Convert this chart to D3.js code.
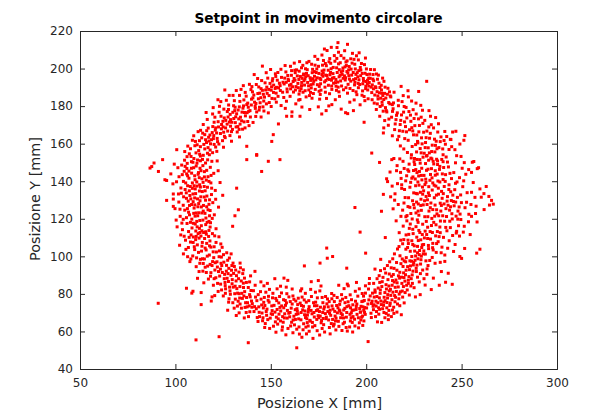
<!DOCTYPE html>
<html>
<head>
<meta charset="utf-8">
<script src="https://cdn.jsdelivr.net/npm/d3@7"></script>
<style>
  body { margin: 0; background: #fff; }
  text { font-family: "DejaVu Sans", sans-serif; fill: #262626; }
</style>
</head>
<body>
<div id="chart"></div>
<script>
// axis ticks
var xTicks = [50, 100, 150, 200, 250, 300];
var yTicks = [40, 60, 80, 100, 120, 140, 160, 180, 200, 220];

// setpoints, grouped by part of the ring ([x, y] in mm)
var topArc = [[150.2,188.5],[151.5,191.2],[152.8,186.9],[153.4,193.8],[154.1,189.7],[155.6,195.3],[156.2,187.4],[157.0,191.8],[157.9,198.2],[158.5,189.1],[159.3,193.6],[160.1,185.2],[160.8,196.4],[161.4,190.3],[162.2,194.7],[162.9,188.6],[163.5,199.3],[164.2,192.1],[164.8,186.4],[165.5,195.8],[166.1,190.9],[166.8,201.7],[167.4,193.5],[168.0,188.2],[168.7,197.4],[169.3,192.6],[170.0,203.8],[170.6,195.1],[171.2,189.7],[171.9,199.6],[172.5,193.2],[173.1,206.5],[173.8,197.9],[174.4,191.4],[175.0,201.2],[175.7,194.8],[176.3,188.5],[176.9,198.7],[177.6,204.3],[178.2,192.9],[178.8,196.5],[179.5,209.6],[180.1,199.1],[180.7,194.2],[181.4,202.8],[182.0,188.9],[182.6,197.3],[183.3,206.9],[183.9,192.5],[184.5,200.4],[185.2,213.8],[185.8,195.6],[186.4,203.1],[187.1,190.7],[187.7,198.8],[188.3,205.5],[189.0,193.9],[189.6,201.6],[190.2,212.9],[190.9,196.2],[191.5,189.4],[192.1,199.7],[192.8,208.1],[193.4,194.1],[194.0,202.3],[194.7,187.6],[195.3,197.8],[195.9,204.6],[196.6,191.5],[197.2,199.2],[197.8,185.8],[198.5,194.7],[199.1,202.1],[199.7,189.3],[200.4,196.8],[201.0,183.9],[201.6,192.6],[202.3,199.5],[202.9,187.2],[203.5,194.4],[204.2,181.6],[204.8,190.3],[205.4,197.1],[206.1,185.4],[206.7,192.2],[207.3,179.8],[208.0,188.6],[208.6,194.9],[209.2,183.5],[209.9,190.1],[210.5,177.6],[211.1,186.3],[211.8,181.9],
  [151.0,194.6],[153.0,190.0],[155.0,188.3],[157.3,194.9],[159.8,191.1],[161.9,187.5],[163.9,196.1],[165.9,189.3],[167.9,194.4],[169.8,190.8],[171.7,197.8],[173.6,194.0],[175.4,190.5],[177.3,195.9],[179.1,201.5],[181.0,196.7],[182.9,192.2],[184.8,197.9],[186.6,193.4],[188.6,196.1],[190.5,191.6],[192.4,196.5],[194.3,199.8],[196.2,194.0],[198.1,188.1],[199.9,193.1],[201.8,197.0],[203.8,189.2],[205.7,187.7],[207.6,184.2],[209.6,186.8],[172.3,186.7],[178.6,187.4],[186.0,185.2],[193.7,183.3],[164.6,183.2],[158.2,182.6],[180.4,180.1],[196.8,180.7],[170.4,178.2],[189.2,176.5],[161.1,176.9],[175.6,183.7],[185.5,208.7],[181.7,211.3],[194.9,206.8],[176.8,207.2],
  [156.4,192.7],[158.9,196.3],[161.7,193.1],[163.2,190.4],[164.9,198.6],[166.4,194.8],[167.7,191.2],[169.1,199.4],[170.8,187.3],[172.9,195.9],[174.1,199.8],[175.9,186.2],[177.1,201.8],[178.4,190.1],[179.8,194.6],[181.6,199.9],[183.1,195.2],[184.2,190.6],[185.5,202.5],[187.4,196.9],[188.1,188.7],[189.9,198.4],[191.2,194.4],[192.6,202.9],[193.9,191.3],[195.6,195.6],[196.9,200.6],[198.2,191.9],[199.4,197.5],[200.8,188.6],[202.1,194.8],[203.2,191.3],[204.5,185.9],[205.9,194.3],[207.2,189.9],[208.3,182.1],[152.6,195.8],[154.5,192.2],[160.4,189.2],[166.9,187.4],[172.2,191.8],[177.9,199.2],[183.6,203.9],[188.9,200.9],[194.6,196.9],[200.1,199.8],[174.6,204.9],[180.9,205.3],[186.8,206.9],[191.9,205.2],[197.5,202.7],[168.2,199.9],[162.6,199.1],[157.5,201.6],[171.4,202.3],[165.1,203.7],[178.1,210.4],[184.7,211.2],[188.7,209.5],[196.3,208.4],[199.6,205.6],[176.2,194.1],[181.9,190.7],[187.9,194.8],[193.1,188.3],[198.9,185.1],[203.1,183.4],[170.9,193.7],[164.7,194.2],[158.6,187.6],[155.3,199.6],[160.3,201.2],[167.2,197.1],[173.3,188.9],[179.4,196.3],[185.1,192.8],[190.8,199.3],[195.9,189.8],[201.4,190.7],[206.4,196.5],[209.3,193.2],[211.4,189.5],[212.6,185.4],[213.7,180.8],[152.1,183.9],[156.8,184.6],[163.1,181.2],[168.5,184.9],[174.9,179.6],[183.8,183.4],[191.4,182.1],[199.3,182.9],[186.9,178.4],[176.7,175.8],[166.3,179.5],[157.6,178.8],[197.9,197.4],[189.4,189.8],[182.3,194.9],[175.2,197.4],[169.6,196.2],[162.8,197.8],[159.1,194.3],[153.7,197.9],[150.8,193.4],[204.3,199.4],[207.9,191.1],[184.4,188.4],[179.2,184.1],[171.6,184.2],[194.1,192.7],[200.7,193.8],[190.0,204.1],[185.9,199.4],[180.5,203.6],[168.9,203.1],[162.3,202.9],
  [160.6,191.6],[162.7,193.8],[164.4,189.8],[166.2,192.6],[168.3,195.7],[169.9,188.6],[171.1,191.4],[172.8,198.4],[174.3,195.1],[176.1,191.9],[177.5,197.6],[178.9,193.7],[180.2,191.1],[181.3,197.9],[182.7,200.6],[184.1,194.2],[185.3,190.1],[186.3,196.4],[187.8,200.3],[189.2,195.1],[190.4,197.6],[191.9,193.3],[193.2,197.9],[194.4,194.6],[195.8,192.1],[197.1,196.2],[198.6,193.4],[199.8,190.6],[201.3,194.9],[202.6,190.1],[203.9,193.5],[205.1,189.8],[206.9,187.1],[167.1,196.6],[171.9,194.6],[176.8,196.8],[181.8,193.8],[186.9,198.2],[191.1,201.1],[196.1,198.9],[200.6,191.9],[165.2,188.1],[170.3,185.6],[175.3,187.9],[180.8,186.6],[185.7,187.6],[190.2,186.9],[195.1,186.1],[160.9,198.9],[166.1,200.4],[173.2,201.8],[178.6,202.7],[184.6,205.4],[189.4,203.5],[193.6,204.9],[158.1,192.7],[154.9,190.9],[152.3,189.4],[203.6,196.8],[208.1,186.9]];

var upperRight = [[205.3,178.2],[207.1,174.6],[208.4,180.5],[209.7,172.3],[210.8,176.9],[211.6,169.8],[212.4,181.2],[213.3,174.1],[214.1,178.6],[214.9,167.5],[215.6,172.8],[216.3,176.4],[217.1,163.9],[217.8,170.2],[218.5,175.3],[219.2,166.6],[219.9,179.8],[220.6,169.1],[221.3,173.7],[222.0,161.8],[222.7,167.4],[223.4,171.9],[224.1,158.5],[224.8,164.7],[225.5,169.6],[226.2,175.8],[226.9,161.2],[227.6,166.3],[228.3,157.4],[229.0,163.1],[229.7,170.8],[230.4,154.9],[231.1,160.6],[231.8,166.7],[232.5,157.8],[233.2,162.9],[233.9,152.3],[234.6,159.2],[235.3,168.4],[236.0,155.6],[236.7,161.3],[237.4,150.8],[238.1,157.9],[239.2,163.6],[240.3,154.1],[241.5,159.7],[242.6,150.2],[212.9,184.9],[216.8,183.1],[220.9,179.3],[224.6,178.1],[227.4,173.2],[230.7,172.4],[234.1,170.1],[237.5,166.2],[240.8,161.7],[244.1,162.3],[246.5,156.8],[209.2,168.4],[213.7,164.2],[217.9,158.8],[221.6,155.3],[225.3,152.1],[219.4,185.6],[223.8,182.7],[228.6,180.4],[232.9,177.6],[236.4,173.9],[231.7,193.2],[227.5,187.8],[218.3,190.5],[214.6,187.4],[245.3,166.2],[249.1,159.8],
  [206.2,183.8],[208.9,177.3],[210.3,184.3],[211.9,173.1],[213.8,177.2],[215.2,170.5],[216.9,180.2],[218.1,172.4],[219.6,176.8],[221.1,166.3],[222.4,177.1],[223.9,168.5],[225.1,173.4],[226.5,164.6],[227.9,169.7],[229.3,159.9],[230.1,166.1],[231.4,163.2],[232.8,168.9],[234.3,155.8],[235.8,162.4],[237.1,157.3],[238.8,161.1],[240.1,157.2],[241.9,152.9],[243.4,156.9],[214.3,181.7],[217.4,166.9],[220.2,162.7],[223.2,175.2],[225.9,159.5],[228.8,174.1],[230.9,157.9],[233.6,165.5],[236.3,159.1],[239.6,151.6],[242.2,163.8],[218.8,182.4],[222.1,184.9],[226.1,181.6],[229.5,177.8],[233.7,174.6],[210.1,179.2],[215.9,175.1],[220.1,171.6],[224.4,166.8],[227.1,160.4],[231.9,153.7],[235.1,150.6],[238.6,147.9],[212.2,187.6],[208.7,185.6],[205.8,181.2],[216.4,162.1],[219.7,157.2],[223.7,154.1],[228.1,151.5],[221.9,188.2],[237.9,170.6],[241.2,166.5],[244.8,158.4],[247.4,153.6]];

var rightArc = [[214.5,152.1],[216.2,148.3],[218.0,144.7],[219.3,150.6],[220.7,140.2],[221.8,146.1],[222.9,136.8],[223.6,152.4],[224.5,142.3],[225.4,148.9],[226.2,133.5],[227.1,139.6],[227.9,145.2],[228.7,130.4],[229.5,136.9],[230.3,143.1],[231.1,149.4],[231.9,127.6],[232.6,133.8],[233.4,140.5],[234.2,146.7],[234.9,124.9],[235.7,131.2],[236.5,137.4],[237.2,143.8],[238.0,121.6],[238.8,128.3],[239.5,134.6],[240.3,140.9],[241.1,118.7],[241.8,125.4],[242.6,131.8],[243.4,138.1],[244.1,115.3],[244.9,122.7],[245.7,129.2],[246.4,135.5],[247.2,112.4],[248.0,119.8],[248.7,126.3],[249.5,132.7],[250.3,146.9],[251.1,140.2],[252.6,128.8],[253.8,122.4],[255.2,134.1],[256.4,150.5],[257.6,126.7],[258.9,147.2],[260.3,131.5],[261.8,124.9],[262.9,137.2],[264.6,127.3],[265.7,129.8],[258.1,118.3],[254.5,111.6],[251.6,104.2],[211.2,139.8],[212.8,131.7],[214.1,125.3],[215.7,118.9],[217.3,112.6],[218.6,136.2],[219.8,128.4],[221.4,121.7],[222.6,114.9],[223.9,108.3],[225.2,125.8],[226.8,119.4],[228.1,112.7],[229.4,106.1],[230.7,121.1],[232.2,115.5],[233.7,109.2],[235.1,103.4],[236.6,116.8],[238.2,110.5],[239.7,104.9],[241.2,100.7],[243.5,108.3],[245.8,102.6],[229.8,152.8],[226.4,155.6],[233.1,155.1],[236.9,151.7],[240.6,147.3],[243.9,144.2],[246.8,149.8],[249.7,153.2],[252.2,143.7],[227.3,127.9],[231.4,131.9],[229.2,140.7],[226.0,146.2],[232.8,137.1],[236.1,127.3],[234.4,120.2],[239.1,124.1],[242.3,113.6],[244.7,141.4],[247.6,139.6],[220.4,131.3],[224.3,129.6],[228.9,124.5],[231.5,118.6],[223.1,117.2],[227.8,100.9],[233.3,97.8],[221.7,104.7],[218.9,98.6],
  [215.9,145.6],[217.6,151.9],[219.9,146.8],[221.2,142.9],[222.5,149.1],[223.3,139.4],[224.8,145.7],[225.9,137.6],[226.7,151.6],[227.5,142.8],[228.4,134.1],[229.1,146.9],[230.8,138.2],[231.6,145.8],[232.1,130.1],[233.7,143.6],[234.6,135.3],[235.4,149.2],[236.8,132.6],[237.6,140.1],[238.4,146.3],[239.8,130.9],[240.9,137.2],[241.6,143.5],[242.9,127.2],[244.3,134.4],[245.1,119.9],[246.1,126.9],[247.8,131.4],[248.4,116.3],[249.2,122.5],[250.6,137.1],[251.8,125.9],[252.9,133.9],[253.6,118.4],[254.9,127.6],[256.1,139.3],[257.3,122.8],[220.1,135.6],[221.9,126.5],[223.4,122.8],[224.9,133.8],[226.4,128.9],[227.6,121.9],[229.9,127.4],[230.9,113.4],[232.9,124.1],[234.2,116.4],[235.9,121.4],[237.3,113.2],[238.9,118.8],[240.5,110.1],[242.1,121.2],[243.8,118.7],[245.3,111.1],[246.6,106.3],[248.9,110.8],[250.9,112.9],[213.6,137.4],[215.1,133.3],[216.8,127.6],[218.2,121.3],[219.4,116.1],[220.9,111.4],[222.1,106.8],[224.6,112.1],[226.1,115.8],[228.6,108.8],[230.2,102.9],[232.6,105.8],[234.7,112.7],[236.9,106.8],[239.3,101.9],[242.7,104.3],[229.6,133.1],[233.9,128.4],[236.9,124.8],[231.2,141.1],[228.3,149.6],[232.7,151.2],[237.8,136.3],[239.9,143.9],[243.1,147.6],[245.9,144.6],[248.9,141.9],[251.4,149.9],[253.7,146.2],[247.1,121.4],[243.7,124.6],[240.8,127.9],[225.7,141.2],[222.2,131.2],[218.3,141.5],[216.4,138.7],[214.9,129.9],[219.1,124.6],[224.1,119.9],[227.2,124.1],[236.2,143.2],[234.9,139.1],[238.6,115.6],[226.9,105.3],[221.3,118.9],[218.1,108.6],[244.6,129.7],[249.9,128.6],[246.8,138.9],
  [222.3,145.3],[223.9,141.6],[225.1,150.4],[226.6,144.6],[227.7,137.9],[228.9,143.1],[230.1,134.9],[231.3,139.4],[232.4,146.4],[233.1,132.4],[234.5,141.8],[235.6,137.9],[236.2,145.6],[237.9,133.1],[238.6,139.6],[239.4,127.1],[240.4,133.4],[241.4,139.9],[242.4,129.4],[243.3,135.6],[244.2,126.4],[245.4,132.6],[246.9,128.9],[248.1,124.1],[249.6,119.6],[224.9,127.6],[226.8,133.3],[228.6,127.1],[230.6,129.6],[232.3,121.1],[233.6,125.9],[235.4,118.1],[237.1,122.6],[238.8,112.6],[240.1,121.6],[241.7,115.4],[229.6,117.1],[231.7,111.6],[226.1,123.1],[222.9,126.1],[220.8,121.1],[224.4,114.4],[227.2,118.1],[234.9,106.9],[236.4,110.9],[228.8,155.1],[231.6,153.4],[234.4,151.9],[237.4,148.9],[240.3,150.4]];

var lowerRight = [[200.2,72.5],[201.4,76.8],[202.5,69.7],[203.3,80.4],[204.1,74.2],[204.9,67.9],[205.6,78.6],[206.3,83.1],[207.0,71.8],[207.7,76.2],[208.4,86.5],[209.1,73.9],[209.8,80.7],[210.5,69.6],[211.2,77.8],[211.9,84.2],[212.6,75.1],[213.3,89.4],[214.0,80.9],[214.7,86.3],[215.4,78.2],[216.1,92.6],[216.8,83.7],[217.5,88.4],[218.2,96.1],[218.9,81.5],[219.6,91.2],[220.3,86.8],[221.0,99.3],[221.7,94.5],[222.4,89.2],[223.1,102.7],[223.8,97.4],[224.5,92.1],[225.2,105.6],[225.9,100.2],[226.6,95.3],[227.3,108.4],[228.0,103.1],[228.7,98.2],[229.4,111.6],[230.1,106.3],[231.0,101.2],[232.2,109.5],[233.5,113.2],[234.8,104.6],[236.1,96.3],[237.7,107.8],[239.4,91.9],[241.2,97.3],[206.8,89.7],[209.6,93.4],[212.3,97.1],[214.8,101.3],[217.2,105.2],[219.7,108.9],[222.3,111.7],[208.1,64.8],[211.6,66.3],[213.8,71.4],[216.4,74.6],[219.1,78.3],[221.5,82.1],[224.2,85.6],[226.9,88.9],[229.6,92.7],[232.4,95.1],[235.2,88.4],[238.3,84.6],[241.6,86.2],[245.1,85.1],[203.9,85.6],[201.7,88.2],[199.6,80.4],[198.3,76.1],[197.1,70.3],[198.8,65.6],[196.4,82.7],[210.2,91.1],[213.1,93.9],[215.9,96.7],[207.6,98.4],[204.6,93.2],[218.4,68.9],[225.8,78.4],[230.9,84.7],[228.3,79.6],[212.9,79.2],[207.3,80.3],[215.2,83.5],[210.9,75.4],[205.2,73.5],[217.7,100.3],[220.8,103.8],[224.9,96.7],[227.6,113.8],[231.8,90.4],[234.1,82.3],
  [200.9,74.6],[202.1,78.9],[203.8,71.6],[205.1,76.1],[206.6,69.2],[207.9,74.3],[209.4,78.2],[210.8,72.6],[212.1,81.6],[213.5,76.9],[214.4,72.9],[215.8,81.3],[217.1,77.4],[218.7,85.6],[219.8,88.7],[221.2,84.6],[222.7,92.9],[223.6,88.1],[224.7,95.4],[226.3,91.9],[227.1,98.7],[228.5,95.9],[229.9,101.3],[231.3,97.6],[232.7,104.1],[201.2,82.6],[203.1,76.1],[204.6,82.1],[206.1,75.3],[208.2,83.9],[209.3,70.1],[211.4,87.6],[212.7,82.4],[214.2,90.3],[215.6,87.4],[217.6,91.5],[219.3,94.6],[220.7,97.1],[222.9,97.6],[225.4,102.8],[226.5,110.2],[229.1,104.7],[230.5,109.8],[205.7,88.1],[207.5,92.4],[211.1,95.1],[213.9,98.7],[216.4,103.9],[219.1,106.7],[221.9,108.6],[224.4,106.3],[199.1,70.2],[202.7,67.4],[205.9,65.1],[209.8,67.3],[213.2,67.9],[216.1,70.3],[219.9,75.2],[222.6,79.4],[225.1,83.3],[227.8,86.4],[230.3,88.1],[210.4,84.9],[207.1,86.1],[204.2,78.3],[212.1,90.6],[214.6,93.6],[217.9,81.1],[220.6,90.2],[223.4,84.2],[226.2,93.6],[228.4,90.8],[231.9,93.3],[234.6,99.4],[236.7,102.1],[238.8,96.8],[201.6,85.5],[198.6,78.8],[197.6,67.6],[211.9,71.2],[215.1,75.8],[208.8,88.8],
  [203.6,73.4],[205.4,70.6],[206.9,77.9],[208.6,72.1],[209.9,76.4],[211.3,79.6],[212.4,73.8],[213.6,84.6],[214.9,79.1],[216.2,85.9],[217.3,79.9],[218.5,88.9],[219.5,83.9],[220.9,92.6],[222.1,87.3],[223.2,94.9],[224.1,90.1],[225.6,97.9],[204.7,80.9],[207.4,82.1],[210.6,82.6],[213.8,87.1],[216.9,89.6],[219.9,97.6],[223.9,99.9],[202.8,74.9],[206.5,72.6],[209.2,75.6],[211.6,68.7],[214.5,69.6],[217.6,73.7],[220.4,80.7],[222.1,85.6],[228.9,100.1],[226.9,101.9]];

var bottomArc = [[140.3,74.8],[141.2,70.6],[142.0,78.3],[142.9,67.4],[143.7,73.1],[144.6,81.2],[145.4,69.8],[146.3,75.5],[147.1,64.2],[148.0,71.9],[148.8,78.7],[149.7,67.1],[150.5,73.6],[151.4,62.8],[152.2,70.3],[153.1,76.4],[153.9,66.7],[154.8,72.8],[155.6,80.5],[156.5,64.9],[157.3,69.4],[158.2,75.2],[159.0,61.6],[159.9,67.8],[160.7,72.4],[161.6,78.9],[162.4,63.5],[163.3,69.1],[164.1,74.3],[165.0,58.6],[165.8,66.2],[166.7,71.5],[167.5,76.8],[168.4,62.3],[169.2,68.7],[170.1,73.2],[170.9,82.4],[171.8,64.8],[172.6,70.1],[173.5,75.6],[174.3,60.4],[175.2,67.3],[176.0,72.9],[176.9,78.1],[177.7,63.6],[178.6,69.5],[179.4,74.7],[180.3,66.1],[181.1,71.3],[182.0,77.4],[182.8,62.9],[183.7,68.2],[184.5,73.8],[185.4,65.4],[186.2,70.9],[187.1,79.6],[187.9,64.1],[188.8,72.3],[189.6,67.6],[190.5,75.8],[191.3,62.4],[192.2,69.9],[193.0,74.2],[193.9,66.5],[194.7,71.7],[195.6,78.8],[196.4,64.6],[197.3,73.4],[198.1,68.2],[199.0,76.5],[141.8,84.6],[144.9,77.2],[147.8,68.6],[150.9,77.9],[153.6,63.9],[156.8,72.6],[159.5,78.4],[162.9,66.4],[165.4,75.1],[168.9,66.8],[171.3,78.6],[174.8,68.4],[177.3,75.3],[180.7,62.1],[183.3,75.9],[186.6,67.3],[189.3,78.1],[192.7,64.8],[195.2,69.1],[198.7,71.3],[143.3,65.3],[146.8,62.1],[152.7,59.6],[157.9,58.2],[163.6,61.2],[166.3,56.9],[172.1,56.3],[178.2,59.7],[184.1,60.8],[190.1,60.2],[196.0,61.9],[149.3,82.4],[155.1,84.1],[161.2,82.6],[168.1,80.3],[175.7,81.6],[181.9,80.2],[188.4,82.8],[194.3,81.4],[173.9,71.1],[179.9,70.6],[185.9,71.4],[169.6,70.3],[163.9,70.8],[158.7,71.2],[154.3,69.2],[191.8,72.6],[197.7,75.9],[176.6,65.8],[170.6,65.5],[182.4,66.4],[167.2,64.1],
  [141.5,73.2],[142.7,76.4],[143.9,70.2],[145.2,74.1],[146.6,78.1],[147.6,70.6],[149.1,75.6],[150.2,69.4],[151.7,73.9],[152.9,67.6],[154.2,75.2],[155.2,70.9],[156.2,67.9],[157.7,73.9],[158.6,67.1],[160.1,70.1],[161.2,74.6],[162.1,68.1],[163.7,72.1],[164.6,66.7],[165.9,70.1],[167.1,73.4],[168.2,67.4],[169.8,71.7],[170.5,65.9],[171.6,69.4],[172.9,73.7],[174.1,66.4],[175.5,70.6],[176.4,64.6],[177.8,71.9],[178.9,66.8],[180.1,73.1],[181.4,68.6],[182.6,71.9],[183.9,65.6],[184.9,69.9],[186.1,74.4],[187.5,68.9],[188.6,64.9],[189.8,70.1],[190.9,73.7],[192.1,67.3],[193.5,71.4],[194.4,76.1],[195.9,67.3],[196.9,70.3],[198.3,73.1],[199.5,69.1],[144.1,67.9],[148.4,66.3],[152.4,65.1],[156.1,62.4],[160.9,64.9],[164.8,62.4],[169.6,62.9],[173.1,63.1],[176.9,61.6],[181.7,64.2],[185.7,62.7],[189.5,62.1],[194.1,62.9],[143.4,79.6],[147.4,80.9],[151.1,80.3],[154.6,78.6],[158.4,80.1],[162.1,77.1],[166.4,78.3],[169.9,76.4],[174.4,77.9],[178.7,78.6],[183.1,79.2],[187.6,77.2],[191.6,79.5],[195.1,74.6],[160.2,75.9],[156.7,76.9],[164.4,77.7],[167.9,70.9],[172.8,67.7],[178.1,73.1],[183.5,70.7],[188.9,75.3],[192.6,71.2],[150.7,71.1],[146.1,72.5],[139.2,78.4],[140.9,81.7],[153.3,82.7],[146.4,84.3],[170.1,60.1],[175.6,58.1],[161.6,59.3],[149.4,61.6],[145.7,65.7],[187.3,60.5],[192.9,59.7],[181.1,58.7],[168.7,58.7],[155.9,60.7],[198.2,63.2],[179.7,77.3],[184.8,78.1],[173.4,80.9],[165.6,81.6],[158.1,83.6],[190.6,84.3],[197.9,80.2],[199.6,84.3],[185.6,84.6],[176.3,84.2],[148.2,85.6],[152.1,88.1],[144.8,86.4],[158.9,87.2],[171.2,86.5],[194.9,86.1],
  [150.9,69.1],[153.3,71.7],[155.7,73.6],[157.1,67.2],[159.4,69.7],[161.7,66.1],[162.8,71.6],[164.3,69.4],[166.1,73.8],[167.7,68.9],[169.1,64.7],[171.1,71.2],[172.4,75.3],[174.6,71.6],[175.9,68.2],[177.2,70.1],[179.1,67.6],[180.8,69.7],[182.1,73.6],[184.2,67.1],[185.2,72.6],[186.8,69.6],[188.2,71.4],[189.9,73.2],[191.5,69.1],[193.1,67.9],[194.8,73.3],[196.6,72.2],[146.9,73.8],[148.6,76.6],[152.6,77.6],[157.6,76.5],[163.1,76.2],[168.6,75.6],[174.2,73.7],[180.6,75.9],[186.4,76.2],[192.3,76.9],[155.1,65.6],[160.4,62.9],[166.9,60.9],[171.9,62.4],[177.4,66.9],[183.2,63.9],[188.1,67.2],[145.9,67.3],[142.4,72.1],[191.7,65.6],[197.2,66.1],[199.2,72.7]];

var lowerLeft = [[115.2,98.6],[116.1,103.4],[116.9,94.8],[117.8,100.7],[118.6,91.3],[119.5,97.2],[120.3,105.1],[121.2,88.6],[122.0,94.3],[122.9,99.8],[123.7,85.2],[124.6,91.4],[125.4,96.9],[126.3,82.7],[127.1,88.3],[128.0,93.6],[128.8,79.8],[129.7,85.4],[130.5,90.9],[131.4,77.2],[132.2,82.8],[133.1,88.1],[133.9,74.6],[134.8,80.3],[135.6,85.7],[136.5,72.8],[137.3,78.1],[138.2,83.4],[139.0,70.5],[139.9,76.2],[112.8,96.3],[114.4,92.1],[117.3,87.9],[119.9,84.6],[122.4,81.3],[125.1,78.9],[127.9,75.6],[130.8,72.4],[133.4,69.9],[136.1,67.2],[118.1,108.2],[121.5,102.3],[124.1,99.6],[126.8,95.2],[129.4,92.6],[132.0,89.7],[134.5,86.9],[137.2,86.1],[139.6,81.8],[120.7,92.7],[123.2,89.5],[126.0,86.1],[128.4,83.6],[131.1,80.1],[133.7,77.8],[136.8,75.3],[138.7,73.6],[114.9,85.9],[111.6,88.3],[109.2,81.4],[113.5,80.7],[118.8,76.2],[120.6,79.1],[127.4,71.3],[131.9,68.5],[124.5,104.8],[128.3,99.1],[130.2,96.4],[135.3,90.8],[119.2,95.1],[116.4,106.9],
  [116.7,100.1],[118.2,95.7],[119.8,102.4],[120.9,96.6],[122.6,91.9],[123.9,96.3],[125.6,88.1],[126.7,92.1],[127.8,86.6],[129.1,89.9],[130.3,83.6],[131.8,86.9],[132.6,80.4],[133.8,83.9],[135.1,77.6],[136.3,81.2],[137.8,75.3],[138.9,79.6],[140.1,72.9],[117.9,105.6],[120.1,99.3],[121.8,97.1],[123.6,93.2],[125.8,90.4],[127.6,90.8],[129.8,87.6],[131.3,84.1],[133.4,80.1],[135.9,78.9],[137.6,73.1],[114.6,96.2],[116.2,91.4],[118.4,89.4],[120.3,88.1],[122.1,85.6],[124.2,82.1],[126.2,80.3],[128.1,77.4],[130.1,75.3],[132.5,73.5],[134.6,72.4],[137.1,70.1],[138.3,67.9],[121.3,107.4],[123.1,102.9],[125.2,100.9],[127.4,97.9],[129.6,95.1],[131.6,92.7],[133.3,91.6],[136.2,88.4],[138.9,86.4],[126.9,101.9],[122.8,110.4],[117.4,110.6],[119.4,112.1],[115.9,113.1],[113.9,105.4],[115.6,94.2],[112.4,91.9],[124.3,95.1],[128.6,81.6],[132.9,76.1],[135.7,83.4],[130.9,94.6],[126.1,84.4],[134.1,93.9],[139.4,89.6],[129.2,101.3],[123.8,106.6]];

var leftArc = [[104.2,101.3],[106.8,104.7],[109.1,100.2],[111.5,106.1],[113.7,102.8],[105.3,108.6],[108.2,111.4],[110.6,108.9],[112.9,112.7],[115.3,109.5],[117.6,113.8],[103.7,114.2],[106.1,117.5],[108.7,115.1],[111.2,118.6],[113.6,116.3],[116.0,120.4],[118.4,117.9],[102.5,121.3],[104.9,124.6],[107.4,122.1],[109.8,125.7],[112.3,123.2],[114.7,127.1],[117.1,124.8],[119.6,128.6],[101.8,128.9],[104.3,131.7],[106.7,129.4],[109.2,133.2],[111.6,130.6],[114.1,134.5],[116.5,132.1],[119.0,136.3],[102.9,136.4],[105.4,139.1],[107.8,137.2],[110.3,140.8],[112.7,138.1],[115.2,142.3],[117.6,139.9],[120.1,144.2],[103.6,143.5],[106.0,146.8],[108.5,144.3],[110.9,148.1],[113.4,145.6],[115.8,149.7],[118.3,147.4],[104.8,151.2],[107.3,154.6],[109.7,152.1],[112.2,156.3],[114.6,153.8],[117.1,157.9],[119.5,155.2],[106.5,158.7],[108.9,161.8],[111.4,159.4],[113.8,163.1],[116.3,160.6],[110.1,103.6],[112.4,109.7],[108.6,119.8],[111.8,126.4],[110.4,135.9],[109.3,129.1],[107.1,141.6],[111.9,143.7],[106.2,149.5],[113.1,150.9],[110.7,113.5],[114.4,119.3],[113.3,131.7],[105.7,133.8],[116.8,136.8],[121.9,150.8],[123.4,139.3],[122.6,126.2],[121.3,114.7],[124.8,132.5],[99.8,125.4],[100.6,139.7],[98.9,133.2],[101.3,147.2],[97.6,143.9],[95.4,129.8],[114.2,98.7],[107.6,97.2],[110.9,94.5],[118.9,132.9],[116.4,145.8],[104.1,119.7],[102.2,105.9],
  [105.5,103.7],[107.9,107.6],[109.9,105.1],[112.1,102.1],[114.1,107.4],[116.2,111.8],[104.6,110.7],[106.9,113.2],[109.4,110.3],[111.4,115.7],[113.9,113.6],[115.9,116.9],[117.9,121.6],[103.4,117.7],[105.8,120.6],[107.9,118.1],[110.3,121.4],[112.8,119.1],[115.5,122.9],[117.6,127.7],[120.4,122.1],[104.1,127.2],[106.3,125.4],[108.5,127.6],[110.9,123.1],[113.6,126.3],[115.8,129.9],[118.2,124.4],[103.1,133.6],[105.1,135.6],[107.6,132.4],[110.1,131.1],[112.6,134.8],[115.1,137.2],[117.9,130.1],[104.2,139.9],[106.4,142.9],[108.9,139.1],[111.3,137.4],[113.9,141.3],[116.2,140.6],[118.7,143.1],[105.1,147.9],[107.1,145.4],[109.6,147.2],[112.1,144.6],[114.4,148.3],[116.9,151.4],[119.1,150.6],[106.1,153.1],[108.4,150.4],[110.8,155.1],[113.1,153.4],[115.4,157.2],[117.8,154.1],[120.3,159.6],[107.9,157.3],[110.2,158.9],[112.6,161.6],[114.9,159.6],[117.4,163.4],[119.9,162.7],[109.6,164.2],[111.9,166.4],[114.3,165.6],[101.6,133.2],[102.4,125.1],[103.3,148.6],[101.9,142.4],[100.4,119.3],[104.9,155.8],[108.1,98.6],[111.1,99.2],[106.4,99.8],[113.1,98.4],[118.6,139.1],[120.9,135.1],[119.3,120.2],[121.1,130.4],[122.4,145.6],[121.7,155.9],[107.3,134.9],[109.8,137.6],[112.2,128.1],[114.6,124.1],[116.6,118.1],[110.4,117.2],[112.5,141.9],[108.2,153.2],[111.6,151.3],[106.9,123.5],[104.6,145.3],[113.4,110.8],[115.6,104.4],[118.6,104.9],[120.6,110.9],[102.8,111.4],[98.7,138.6],[100.9,115.7],[99.4,149.1],
  [110.9,110.6],[112.6,114.9],[114.8,112.7],[109.4,117.6],[111.7,121.6],[113.9,123.1],[116.4,126.4],[110.2,127.4],[112.9,129.6],[115.1,131.6],[108.1,130.6],[110.6,133.4],[113.1,136.9],[115.6,134.9],[108.9,136.2],[111.2,139.6],[114.5,139.4],[117.1,142.4],[110.1,142.9],[112.9,146.9],[115.2,145.1],[108.4,146.9],[111.3,149.6],[114.2,151.6],[116.8,154.9],[109.2,150.1],[112.7,154.4],[115.8,162.1],[113.1,158.4],[110.5,161.2],[107.4,127.1],[105.8,130.9],[106.4,137.6],[109.6,122.9],[111.9,112.1],[109.3,107.4],[107.2,110.1],[117.6,118.6],[118.2,115.6],[105.9,143.9]];

var upperLeft = [[115.4,164.8],[117.2,168.3],[118.9,162.1],[120.3,171.4],[121.6,165.7],[122.8,159.8],[123.9,174.6],[125.0,168.9],[126.1,163.2],[127.2,177.1],[128.3,171.5],[129.4,166.4],[130.5,180.2],[131.6,174.3],[132.7,169.1],[133.8,182.5],[134.9,176.8],[136.0,171.6],[137.1,185.3],[138.2,179.4],[139.3,174.2],[140.4,187.6],[141.5,182.1],[142.6,176.9],[143.7,190.2],[144.8,184.5],[145.9,179.6],[147.0,192.4],[148.1,186.8],[149.2,181.9],[119.5,175.8],[123.1,179.9],[126.7,183.1],[130.2,185.7],[134.4,188.9],[138.8,191.6],[143.1,194.7],[147.6,197.8],[121.1,158.2],[124.7,161.6],[128.6,164.3],[132.4,166.2],[136.5,168.4],[140.7,171.3],[144.9,174.2],[148.7,176.4],[118.2,156.6],[126.4,172.4],[131.1,177.6],[135.7,180.1],[139.9,183.7],[144.2,186.9],[133.2,173.2],[137.6,176.5],[141.9,178.8],[128.9,169.3],[125.3,166.1],[121.9,162.8],[146.3,182.7],[150.6,184.1],[152.4,197.2],[149.9,199.5],[145.6,201.3],[141.3,196.8],[125.9,188.6],[122.3,183.4],[116.7,172.9],[113.2,167.1],
  [116.4,166.9],[118.1,164.6],[119.6,169.1],[121.1,168.4],[122.4,171.7],[123.6,165.4],[124.9,171.9],[126.3,168.4],[127.6,174.2],[128.9,172.8],[130.1,176.7],[131.4,171.2],[132.9,177.9],[134.1,174.1],[135.4,178.9],[136.7,174.8],[137.9,181.6],[139.1,177.6],[140.6,184.4],[141.8,179.9],[143.2,186.7],[144.4,181.8],[145.6,188.4],[146.7,184.8],[147.9,190.1],[149.1,185.6],[120.7,174.1],[122.9,176.7],[125.4,178.4],[127.9,180.6],[130.9,182.9],[133.6,185.7],[136.6,187.3],[139.6,188.8],[142.4,191.5],[145.2,193.6],[148.4,194.9],[118.4,159.9],[122.1,161.1],[125.7,163.9],[129.9,167.6],[133.9,170.4],[137.9,171.8],[142.1,174.5],[146.4,177.4],[150.2,179.8],[152.9,182.1],[117.6,161.4],[120.1,164.3],[124.2,170.2],[127.4,166.7],[131.8,168.9],[135.2,167.7],[138.6,169.6],[143.9,177.9],[147.3,188.6],[149.6,192.1],[151.4,187.3],[153.8,185.2],[155.4,180.3],[128.2,185.7],[123.8,182.4],[119.8,179.2],[131.9,188.3],[135.6,190.9],[114.6,170.2],[116.1,176.6],[125.2,158.1],[129.4,161.3],[133.6,163.6],
  [130.6,173.4],[132.1,175.9],[133.5,179.6],[134.7,172.2],[136.2,176.6],[137.4,180.8],[138.4,177.2],[139.8,180.6],[141.1,185.9],[142.2,181.4],[143.5,183.9],[144.9,189.3],[146.1,186.3],[147.7,181.2],[148.9,188.9],[127.1,170.4],[128.7,175.6],[125.6,173.7],[124.1,167.9],[122.6,168.9],[120.9,167.2],[119.3,165.9],[135.9,183.3],[140.1,190.4],[144.1,179.4],[131.3,179.4],[127.8,178.2],[133.4,167.6],[129.6,171.4],[150.4,190.3]];

// isolated points inside the hole and outside the ring
var strays = [[86.7,147.0],[88.8,149.7],[91.1,145.2],[93.3,151.5],[95.4,140.4],[100.7,156.8],[87.6,147.8],[94.5,140.8],[98.9,130.5],[98.9,126.6],
  [154.0,170.5],[161.0,174.6],[150.5,161.2],[151.3,164.8],[148.7,150.6],[154.8,151.5],[158.3,174.6],[145.2,145.2],[142.6,153.8],[137.4,151.5],[132.1,136.3],[165.3,174.6],[165.3,183.5],
  [142.6,154.2],[137.4,158.6],[133.0,124.8],[131.2,121.6],[130.0,116.0],[141.7,92.0],[133.9,96.4],[135.6,92.8],
  [194.1,126.0],[179.3,104.4],[179.6,99.0],[182.4,99.9],[189.8,93.7],[190.1,85.2],[196.8,112.9],[199.7,101.7],[175.8,96.4],[167.6,94.9],[156.9,88.4],[166.2,82.7],[174.9,87.1],
  [198.9,171.4],[209.0,165.7],[202.9,155.0],[212.5,144.9],[210.7,141.3],[213.4,151.5],[218.6,138.1],[179.0,177.6],[190.3,176.0],[193.3,177.6],[182.0,180.8],[207.0,150.0],[209.0,133.0],[208.0,124.0],[210.0,110.0],
  [163.6,51.3],[110.8,55.5],[122.9,57.2],[138.2,54.0],[91.0,75.0],[201.0,54.6],[105.8,83.0],[108.6,80.4],[113.5,74.3],[119.2,78.4],
  [259.6,103.8],[257.9,101.7],[249.1,99.9],[250.0,98.9],[243.0,91.0],[247.4,113.3],[251.4,116.0],[255.2,121.3],[266.6,127.8],[264.3,131.9],[261.7,133.4],[259.6,135.9],[257.0,131.4],[255.6,150.1],[258.2,146.7],[255.2,144.7],[251.7,164.3],[251.2,161.8],[247.0,166.6],[244.4,162.2]];

var points = [].concat(topArc, upperRight, rightArc, lowerRight, bottomArc, lowerLeft, leftArc, upperLeft, strays);

var w = 616, h = 415;
var margin = { left: 80, right: 59, top: 31, bottom: 46 };
var ink = "#262626";

var xScale = d3.scaleLinear().domain([50, 300]).range([margin.left, w - margin.right]);
var yScale = d3.scaleLinear().domain([40, 220]).range([h - margin.bottom, margin.top]);

var svg = d3.select("#chart").append("svg").attr("width", w).attr("height", h);

// points
svg.append("g")
  .selectAll("rect")
  .data(points)
  .enter()
  .append("rect")
  .attr("x", function (d) { return xScale(d[0]) - 1.5; })
  .attr("y", function (d) { return yScale(d[1]) - 1.5; })
  .attr("width", 3)
  .attr("height", 3)
  .attr("fill", "#ff0000");

// axes, ticks pointing inwards on all four sides (matlab box)
var xAxis = d3.axisBottom(xScale).tickValues(xTicks).tickSize(-5).tickPadding(9);
var yAxis = d3.axisLeft(yScale).tickValues(yTicks).tickSize(-5).tickPadding(7);
var xTop = d3.axisTop(xScale).tickValues(xTicks).tickSize(-5).tickFormat("");
var yRight = d3.axisRight(yScale).tickValues(yTicks).tickSize(-5).tickFormat("");

svg.append("g").attr("class", "axis").attr("transform", "translate(0," + (h - margin.bottom) + ")").call(xAxis);
svg.append("g").attr("class", "axis").attr("transform", "translate(" + margin.left + ",0)").call(yAxis);
svg.append("g").attr("class", "axis").attr("transform", "translate(0," + margin.top + ")").call(xTop);
svg.append("g").attr("class", "axis").attr("transform", "translate(" + (w - margin.right) + ",0)").call(yRight);

svg.selectAll(".axis path, .axis line").attr("stroke", ink).attr("stroke-width", 1);
svg.selectAll(".axis text").attr("font-size", 12).attr("font-family", "DejaVu Sans, sans-serif").attr("fill", ink);

// titles
svg.append("text")
  .attr("x", (margin.left + w - margin.right) / 2)
  .attr("y", 23)
  .attr("text-anchor", "middle")
  .attr("font-size", 13.7)
  .attr("font-weight", "bold")
  .style("fill", "#000")
  .text("Setpoint in movimento circolare");

svg.append("text")
  .attr("x", (margin.left + w - margin.right) / 2 + 1)
  .attr("y", 407.5)
  .attr("text-anchor", "middle")
  .attr("font-size", 14.4)
  .text("Posizione X [mm]");

svg.append("text")
  .attr("transform", "translate(40," + 199 + ") rotate(-90)")
  .attr("text-anchor", "middle")
  .attr("font-size", 14.4)
  .text("Posizione Y [mm]");
</script>
</body>
</html>
